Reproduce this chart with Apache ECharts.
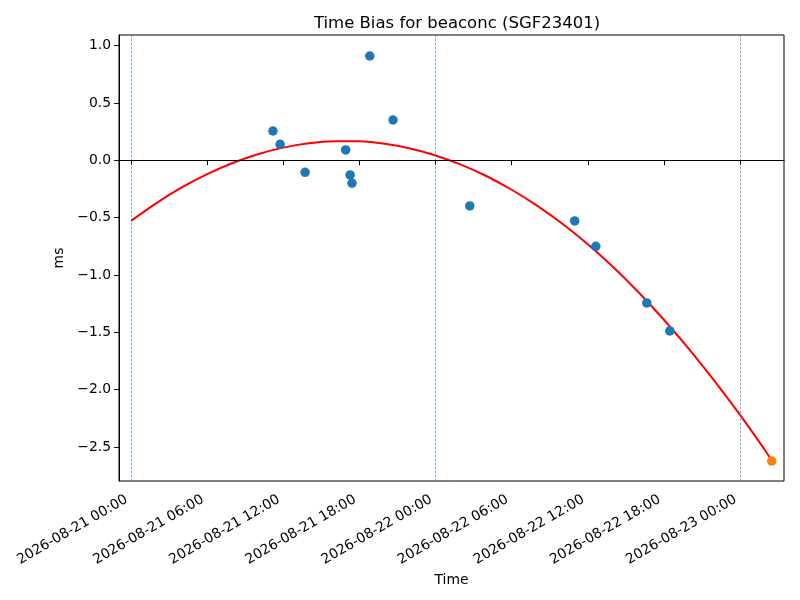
<!DOCTYPE html>
<html>
<head>
<meta charset="utf-8">
<script src="https://cdn.jsdelivr.net/npm/echarts@6/dist/echarts.min.js"></script>
<style>html,body{margin:0;padding:0;background:#fff;}#c{width:800px;height:600px;}</style>
</head>
<body>
<div id="c"></div>
<script>
// ---- data ----
const titleText = 'Time Bias for beaconc (SGF23401)';
const measTimes = ['2026-08-21 11:11','2026-08-21 11:45','2026-08-21 13:43','2026-08-21 16:55','2026-08-21 17:16','2026-08-21 17:25','2026-08-21 18:49','2026-08-21 20:39','2026-08-22 02:42','2026-08-22 10:58','2026-08-22 12:38','2026-08-22 16:39','2026-08-22 18:28'];
const measValues = [0.255, 0.139, -0.105, 0.090, -0.128, -0.200, 0.909, 0.351, -0.398, -0.529, -0.750, -1.244, -1.488];
const predTimes = ['2026-08-23 02:30'];
const predValues = [-2.622];
const fitTimes = ['2026-08-21 00:00','2026-08-21 02:00','2026-08-21 04:00','2026-08-21 06:00','2026-08-21 08:00','2026-08-21 10:00','2026-08-21 12:00','2026-08-21 14:00','2026-08-21 16:00','2026-08-21 18:00','2026-08-21 20:00','2026-08-21 22:00','2026-08-22 00:00','2026-08-22 02:00','2026-08-22 04:00','2026-08-22 06:00','2026-08-22 08:00','2026-08-22 10:00','2026-08-22 12:00','2026-08-22 14:00','2026-08-22 16:00','2026-08-22 18:00','2026-08-22 20:00','2026-08-22 22:00','2026-08-23 00:00','2026-08-23 02:00','2026-08-23 02:30'];
const fitValues = [-0.528, -0.373, -0.237, -0.121, -0.024, 0.053, 0.110, 0.148, 0.166, 0.165, 0.144, 0.103, 0.042, -0.038, -0.137, -0.257, -0.395, -0.554, -0.732, -0.930, -1.150, -1.390, -1.648, -1.925, -2.220, -2.532, -2.618];
const dayLines = ['2026-08-21 00:00','2026-08-22 00:00','2026-08-23 00:00'];
const xTickLabels = ['2026-08-21 00:00','2026-08-21 06:00','2026-08-21 12:00','2026-08-21 18:00','2026-08-22 00:00','2026-08-22 06:00','2026-08-22 12:00','2026-08-22 18:00','2026-08-23 00:00'];
const yTicks = [-2.5, -2.0, -1.5, -1.0, -0.5, 0.0, 0.5, 1.0];
const xRange = ['2026-08-20 23:03','2026-08-23 03:28'];
const yRange = [-2.796, 1.092];

function parseT(s){ return +new Date(s.replace(' ','T') + ':00'); }
function pad(n){ return (n<10?'0':'') + n; }
function fmtT(v){ const d = new Date(v); return d.getFullYear()+'-'+pad(d.getMonth()+1)+'-'+pad(d.getDate())+' '+pad(d.getHours())+':'+pad(d.getMinutes()); }
function zip(ts, vs){ return ts.map((t,i)=>[parseT(t), vs[i]]); }

const FONT = 'DejaVu Sans';
const chart = echarts.init(document.getElementById('c'), null, {renderer:'canvas'});
chart.setOption({
  animation: false,
  backgroundColor: '#ffffff',
  textStyle: {fontFamily: FONT},
  title: {
    text: titleText, left: 452, top: 10, textAlign: 'center',
    textStyle: {fontFamily: FONT, fontSize: 16.5, fontWeight: 'normal', color: '#000'}
  },
  grid: {left: 119, right: 16, top: 35, bottom: 119, show: true, borderColor: '#000', borderWidth: 1, backgroundColor: 'transparent'},
  xAxis: {
    type: 'value', scale: true,
    min: parseT(xRange[0]), max: parseT(xRange[1]),
    name: 'Time', nameLocation: 'middle', nameGap: 88,
    nameTextStyle: {fontFamily: FONT, fontSize: 13.9, color: '#000'},
    axisLine: {show: true, lineStyle: {color: '#000', width: 1}},
    axisTick: {show: true, length: 4.9, lineStyle: {color: '#000', width: 1}, customValues: xTickLabels.map(parseT)},
    axisLabel: {show: true, rotate: 30, margin: 15, padding: [0, 5, 0, 0], fontFamily: FONT, fontSize: 13.9, color: '#000',
      customValues: xTickLabels.map(parseT), formatter: v => fmtT(v)},
    splitLine: {show: false}
  },
  yAxis: {
    type: 'value',
    min: yRange[0], max: yRange[1],
    name: 'ms', nameLocation: 'middle', nameGap: 46, nameRotate: 90,
    nameTextStyle: {fontFamily: FONT, fontSize: 13.9, color: '#000'},
    axisLine: {show: true, lineStyle: {color: '#000', width: 1}},
    axisTick: {show: true, length: 4.9, lineStyle: {color: '#000', width: 1}, customValues: yTicks},
    axisLabel: {show: true, margin: 8, fontFamily: FONT, fontSize: 13.9, color: '#000',
      customValues: yTicks, formatter: v => v.toFixed(1).replace('-', '\u2212')},
    splitLine: {show: false}
  },
  series: [
    {
      type: 'line', name: 'refs', data: [], silent: true,
      markLine: {
        silent: true, symbol: 'none', label: {show: false},
        data: [
          ...dayLines.map(d => ({xAxis: parseT(d), lineStyle: {color: '#1f77b4', width: 0.6, type: [2.5, 1.5]}})),
          {yAxis: 0, lineStyle: {color: '#000', width: 0.9, type: 'solid'}}
        ]
      }
    },
    {
      type: 'line', name: 'fit', data: zip(fitTimes, fitValues), smooth: 0.3,
      showSymbol: false, symbol: 'none', z: 3,
      lineStyle: {color: '#ff0000', width: 2}
    },
    {
      type: 'scatter', name: 'meas', data: zip(measTimes, measValues), symbolSize: 9.5, z: 4,
      itemStyle: {color: '#1f77b4', opacity: 1}
    },
    {
      type: 'scatter', name: 'pred', data: zip(predTimes, predValues), symbolSize: 9.5, z: 5,
      itemStyle: {color: '#ff7f0e', opacity: 1}
    }
  ]
});
</script>
</body>
</html>
